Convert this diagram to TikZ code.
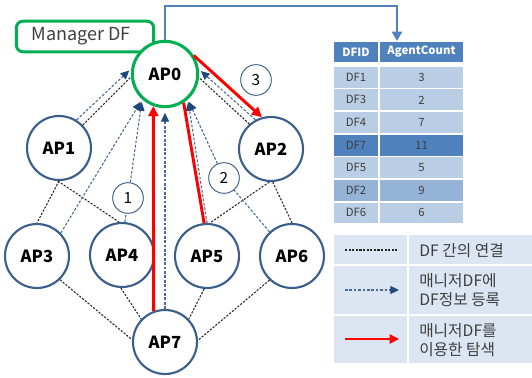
\documentclass[tikz,border=0pt]{standalone}
\usepackage{fontspec}
\setmainfont{Noto Sans CJK KR}
\usetikzlibrary{arrows.meta}

\definecolor{nodeblue}{HTML}{3A5F8B}
\definecolor{mgrgreen}{HTML}{00B050}
\definecolor{regblue}{HTML}{4A6B9A}
\definecolor{tipblue}{HTML}{1F497D}
\definecolor{hdrblue}{HTML}{4F81BD}
\definecolor{rowlight}{HTML}{B9CDE5}
\definecolor{rowmid}{HTML}{95B3D7}
\definecolor{rowdark}{HTML}{4F81BD}
\definecolor{legbg}{HTML}{DCE6F2}
\definecolor{txtgray}{HTML}{3F3F3F}

\begin{document}
\begin{tikzpicture}[x=0.75pt,y=-0.75pt,
  apnode/.style={circle,draw=nodeblue,line width=1.6pt,fill=white,
    minimum size=48pt,inner sep=0pt,text=black,
    font=\fontsize{12.5}{15}\selectfont\bfseries},
  mgrnode/.style={apnode,draw=mgrgreen,line width=2.3pt,minimum size=49pt},
  numnode/.style={circle,draw=nodeblue,line width=0.7pt,fill=white,
    minimum size=23pt,inner sep=0pt,font=\fontsize{11.5}{13}\selectfont},
  dflink/.style={draw=black!85,line width=0.8pt,dash pattern=on 1.6pt off 1.1pt},
  reglink/.style={draw=regblue,line width=0.8pt,dash pattern=on 2pt off 1.3pt},
  regarrow/.style={reglink,-{Triangle[length=6.5pt,width=6pt,color=tipblue]},shorten >=2pt},
  search/.style={draw=red,line width=2.2pt},
  searcharrow/.style={search,-{Triangle[length=7.5pt,width=7.5pt]}},
  cell/.style={rectangle,inner sep=0pt,draw=none,font=\fontsize{8.5}{9}\selectfont,text=txtgray},
  hdrcell/.style={cell,fill=hdrblue,text=white,font=\fontsize{8.5}{9}\selectfont\bfseries,minimum height=15pt},
  idcell/.style={cell,minimum width=33pt,minimum height=15.6pt},
  cntcell/.style={cell,minimum width=62.5pt,minimum height=15.6pt},
  legcell/.style={rectangle,inner sep=0pt,fill=legbg},
  legtext/.style={anchor=west,align=left,inner sep=0pt,text=txtgray,
    font=\fontsize{11.8}{14.3}\selectfont},
]
\useasboundingbox (0,0) rectangle (532,378);

% manager label behind the AP0 circle
\node[draw=mgrgreen,line width=2.2pt,rounded corners=5pt,fill=white,
  minimum width=103pt,minimum height=23pt,inner sep=0pt,
  font=\fontsize{13.5}{15}\selectfont,text=txtgray] (mgr) at (85,36.5) {\hspace*{-6pt}Manager DF};

% agent platforms
\node[mgrnode] (AP0) at (165,74) {AP0};
\node[apnode] (AP1) at (59,148) {AP1};
\node[apnode] (AP2) at (271,149) {AP2};
\node[apnode] (AP3) at (37,256) {AP3};
\node[apnode] (AP4) at (122,255) {AP4};
\node[apnode] (AP5) at (207,256) {AP5};
\node[apnode] (AP6) at (292,256) {AP6};
\node[apnode] (AP7) at (165,342) {AP7};

% step numbers
\node[numnode] (n1) at (128,198) {1};
\node[numnode] (n2) at (224,178) {2};
\node[numnode] (n3) at (256,80) {3};

% DF links
\draw[dflink] (AP1.44) -- (AP0.185);
\draw[dflink] (AP2.131) -- (AP0.354);
\draw[dflink] (AP1.270) -- (AP3.90);
\draw[dflink] (AP1.268) -- (AP4.95);
\draw[dflink] (AP2.267) -- (AP5.85);
\draw[dflink] (AP2.273) -- (AP6.90);
\draw[dflink] (AP3.314) -- (AP7.176);
\draw[dflink] (AP4.268) -- (AP7.136);
\draw[dflink] (AP5.265) -- (AP7.44);
\draw[dflink] (AP6.227) -- (AP7.3);

% registration with the manager DF
\draw[regarrow] (AP1.58) -- (AP0.171);
\draw[regarrow] (AP2.118) -- (AP0.8);
\draw[regarrow] (AP3.44) -- (AP0.228);
\draw[reglink] (AP4.85) -- (n1);
\draw[regarrow] (n1) -- (AP0.228);
\draw[regarrow] (AP5.90) -- (AP0.312);
\draw[reglink] (AP6.133) -- (n2);
\draw[regarrow] (n2) -- (AP0.312);
\draw[regarrow,shorten >=3.5pt] (AP7.90) -- (AP0.270);

% search through the manager DF
\draw[searcharrow] (AP7.110) -- (AP0.250);
\draw[search] (AP5.95) -- (AP0.303);
\draw[searcharrow] (AP0.33) -- (AP2.106);

% lookup table
\node[hdrcell,minimum width=33pt] (hid) at (356,52) {DFID};
\node[hdrcell,minimum width=62.5pt] (hcnt) at (421.5,52) {AgentCount};
\foreach \k/\id/\cnt/\col in {1/DF1/3/rowlight,2/DF3/2/rowlight,3/DF4/7/rowlight,
    4/DF7/11/rowdark,5/DF5/5/rowlight,6/DF2/9/rowmid,7/DF6/6/rowlight}{
  \node[idcell,fill=\col] (id\k) at (356,{66+(\k-0.5)*22.6}) {\id};
  \node[cntcell,fill=\col] (cnt\k) at (421.5,{66+(\k-0.5)*22.6}) {\cnt};
}
\coordinate (bend) at (397,6);
\coordinate (tblin) at (397,41);
\draw[draw=hdrblue,line width=1.6pt,-{Triangle[length=7pt,width=7.5pt]}]
  (AP0.north) |- (bend) -- (tblin);

% legend
\node[legcell,minimum width=54.5pt,minimum height=22pt] (lg1a) at (370.5,249.5) {};
\node[legcell,minimum width=92pt,minimum height=22pt] (lg1b) at (470.5,249.5) {};
\node[legcell,minimum width=54.5pt,minimum height=36pt] (lg2a) at (370.5,290) {};
\node[legcell,minimum width=92pt,minimum height=36pt] (lg2b) at (470.5,290) {};
\node[legcell,minimum width=54.5pt,minimum height=35pt] (lg3a) at (370.5,339.5) {};
\node[legcell,minimum width=92pt,minimum height=35pt] (lg3b) at (470.5,339.5) {};

\coordinate (s1a) at (345,250); \coordinate (s1b) at (397,250);
\coordinate (s2a) at (345,290); \coordinate (s2b) at (399,290);
\coordinate (s3a) at (345,339); \coordinate (s3b) at (399,339);
\draw[dflink] (s1a) -- (s1b);
\draw[reglink,-{Triangle[length=6.5pt,width=6pt,color=tipblue]}] (s2a) -- (s2b);
\draw[draw=red,line width=1.2pt,-{Triangle[length=7pt,width=7pt]}] (s3a) -- (s3b);

\node[legtext] (t1) at (419,251) {DF 간의 연결};
\node[legtext] (t2) at (419,290) {매니저DF에\\DF정보 등록};
\node[legtext] (t3) at (419,340) {매니저DF를\\이용한 탐색};
\end{tikzpicture}
\end{document}
